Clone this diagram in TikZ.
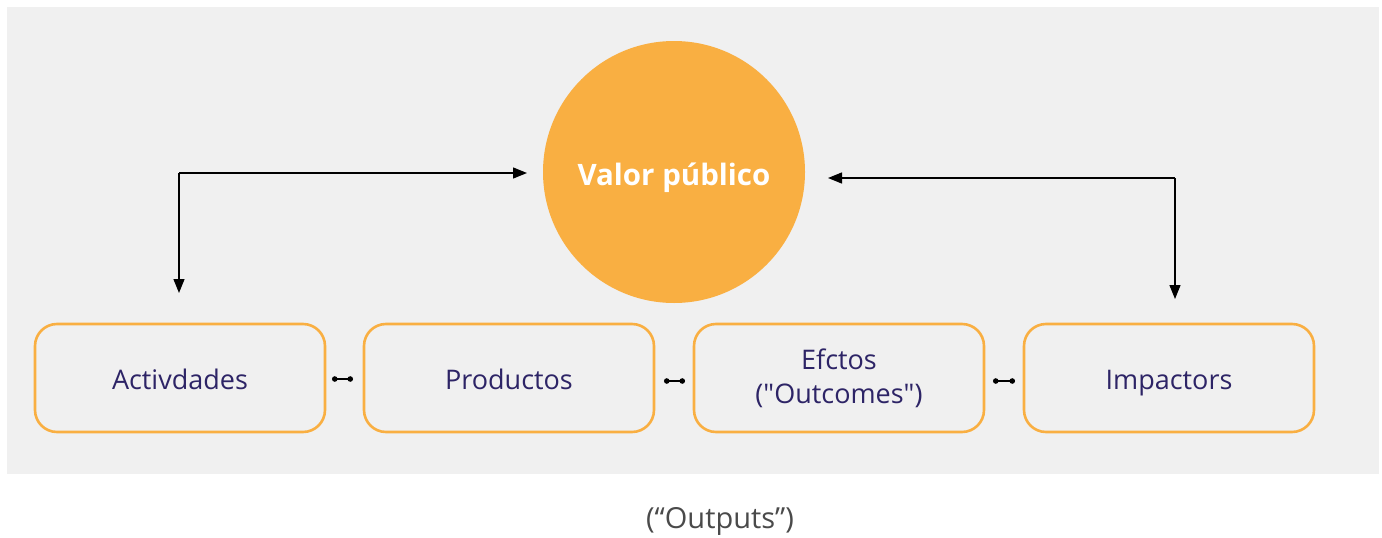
\documentclass[tikz,border=0pt]{standalone}
\usepackage{fontspec}
\setmainfont{Open Sans}
\newfontfamily\plainopen{Open Sans}[Ligatures=ResetAll]
\usetikzlibrary{arrows.meta}
\definecolor{bgc}{HTML}{F0F0F0}
\definecolor{orng}{HTML}{F9AF42}
\definecolor{navy}{HTML}{2D2466}
\definecolor{grtx}{HTML}{4A4A4A}
\tikzset{
  stagebox/.style={draw=orng, line width=2.6pt, rounded corners=22pt, fill=bgc,
    minimum width=290pt, minimum height=108pt, align=center, text=navy,
    font=\fontsize{27}{34}\selectfont, inner sep=0pt},
  oneline/.style={text height=28pt, text depth=6pt},
  flow/.style={draw=black, line width=1.3pt, -{Triangle[length=14pt,width=11pt]}},
  link/.style={draw=black, line width=1.4pt, {Circle[length=5.5pt]}-{Circle[length=5.5pt]}},
}
\begin{document}
\begin{tikzpicture}[x=1pt,y=-1pt]
\useasboundingbox (0,0) rectangle (1382,538);
\fill[bgc] (7,7) rectangle (1379,474);
\node[circle, fill=orng, minimum size=262pt, inner sep=0pt] (vp) at (674,172) {};
\node[text=white, font=\fontsize{29.5}{34}\selectfont\bfseries] (vpt) at (674,178) {Valor público};
\node[stagebox, oneline] (a) at (180,378) {Activdades};
\node[stagebox, oneline] (p) at (509,378) {Productos};
\node[stagebox, font=\fontsize{27}{34}\plainopen] (e) at (839,378) {Efctos\\("Outcomes")};
\node[stagebox, oneline] (i) at (1169,378) {Impactors};
\node[text=grtx, font=\fontsize{29}{34}\selectfont] (o) at (720,521) {(“Outputs”)};
\coordinate (lc) at (179,173);
\coordinate (rc) at (1175,178);
\coordinate (lt) at (527,173);
\coordinate (rt) at (828,178);
\coordinate (ld) at (179,293);
\coordinate (rd) at (1175,299);
\draw[flow] (lc) -- (lt);
\draw[flow] (lc) -- (ld);
\draw[flow] (rc) -- (rt);
\draw[flow] (rc) -- (rd);
\coordinate (c1a) at (332,379); \coordinate (c1b) at (353,379);
\coordinate (c2a) at (664,381); \coordinate (c2b) at (685,381);
\coordinate (c3a) at (993,381); \coordinate (c3b) at (1015,381);
\draw[link] (c1a) -- (c1b);
\draw[link] (c2a) -- (c2b);
\draw[link] (c3a) -- (c3b);
\end{tikzpicture}
\end{document}
